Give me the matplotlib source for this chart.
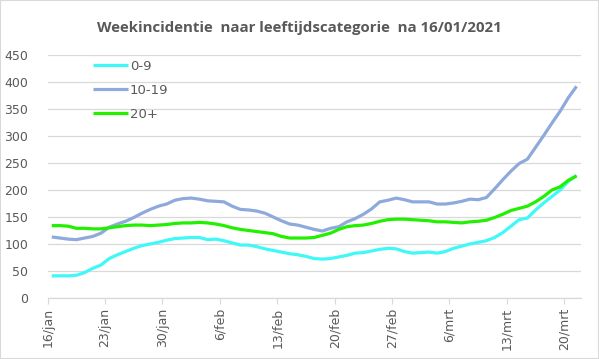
import matplotlib
matplotlib.use("Agg")
import matplotlib.pyplot as plt
import numpy as np

title = "Weekincidentie  naar leeftijdscategorie  na 16/01/2021"
tick_labels = ["16/jan", "23/jan", "30/jan", "6/feb", "13/feb", "20/feb",
               "27/feb", "6/mrt", "13/mrt", "20/mrt"]
series_names = ["0-9", "10-19", "20+"]

age_0_9 = [41, 41, 41, 42, 47, 55, 61, 73, 80, 86, 92, 97, 100, 103, 107, 110,
           111, 112, 112, 108, 109, 106, 102, 98, 98, 95, 91, 88, 85, 82, 80,
           77, 73, 72, 73, 76, 79, 83, 84, 87, 90, 92, 91, 86, 83, 84, 85, 83,
           86, 92, 96, 100, 103, 106, 112, 121, 133, 145, 148, 163, 176, 188,
           200, 216, 227]
age_10_19 = [113, 111, 109, 108, 111, 114, 120, 131, 137, 142, 149, 157, 164,
             170, 174, 181, 184, 185, 183, 180, 179, 178, 170, 164, 163, 161,
             157, 150, 143, 137, 135, 131, 127, 124, 129, 132, 141, 147, 155,
             165, 178, 181, 185, 182, 178, 178, 178, 174, 174, 176, 179, 183,
             182, 186, 202, 219, 235, 249, 257, 279, 301, 324, 346, 371, 392]
age_20_plus = [134, 134, 133, 129, 129, 128, 128, 130, 132, 134, 135, 135, 134,
               135, 136, 138, 139, 139, 140, 139, 137, 134, 130, 127, 125, 123,
               121, 119, 114, 111, 111, 111, 112, 116, 120, 127, 132, 134, 135,
               138, 142, 145, 146, 146, 145, 144, 143, 141, 141, 140, 139, 141,
               142, 144, 149, 155, 162, 166, 170, 178, 188, 200, 206, 218, 226]

colors = ["#40F8F8", "#8EA9DB", "#22F000"]

fig = plt.figure(figsize=(5.99, 3.59), dpi=100)
ax = fig.add_axes([0.0796, 0.170, 0.8898, 0.6768])

n = len(age_0_9)
x = np.arange(n) + 0.5
for vals, name, c in zip([age_0_9, age_10_19, age_20_plus], series_names, colors):
    ax.plot(x, vals, color=c, lw=2.3, label=name, solid_capstyle="butt")

ax.set_xlim(0, n)
ax.set_ylim(0, 450)
ax.set_yticks(np.arange(0, 451, 50))
ax.set_xticks(np.arange(0, n, 7))
ax.set_xticklabels(tick_labels, rotation=90)
ax.grid(axis="y", color="#d9d9d9", lw=0.9)
ax.set_axisbelow(True)
for s in ["top", "right", "left"]:
    ax.spines[s].set_visible(False)
ax.spines["bottom"].set_color("#d9d9d9")
ax.spines["bottom"].set_linewidth(0.9)
ax.tick_params(axis="y", length=0, colors="#595959", labelsize=9, pad=14)
ax.tick_params(axis="x", length=4, color="#d9d9d9", colors="#595959",
               labelsize=9, pad=3)

leg = ax.legend(loc="upper left", bbox_to_anchor=(0.0625, 1.03), frameon=False,
                fontsize=9.5, handlelength=2.7, labelspacing=0.85,
                handletextpad=0.1)
for t in leg.get_texts():
    t.set_color("#595959")

fig.text(0.5, 0.922, title, ha="center", va="center", fontsize=10.8,
         fontweight="bold", color="#595959", family="Open Sans")

fig.add_artist(plt.Rectangle((0, 0), 1, 1, transform=fig.transFigure,
                             fill=False, edgecolor="#d9d9d9", lw=1.5))

fig.savefig("out.png", dpi=100)
